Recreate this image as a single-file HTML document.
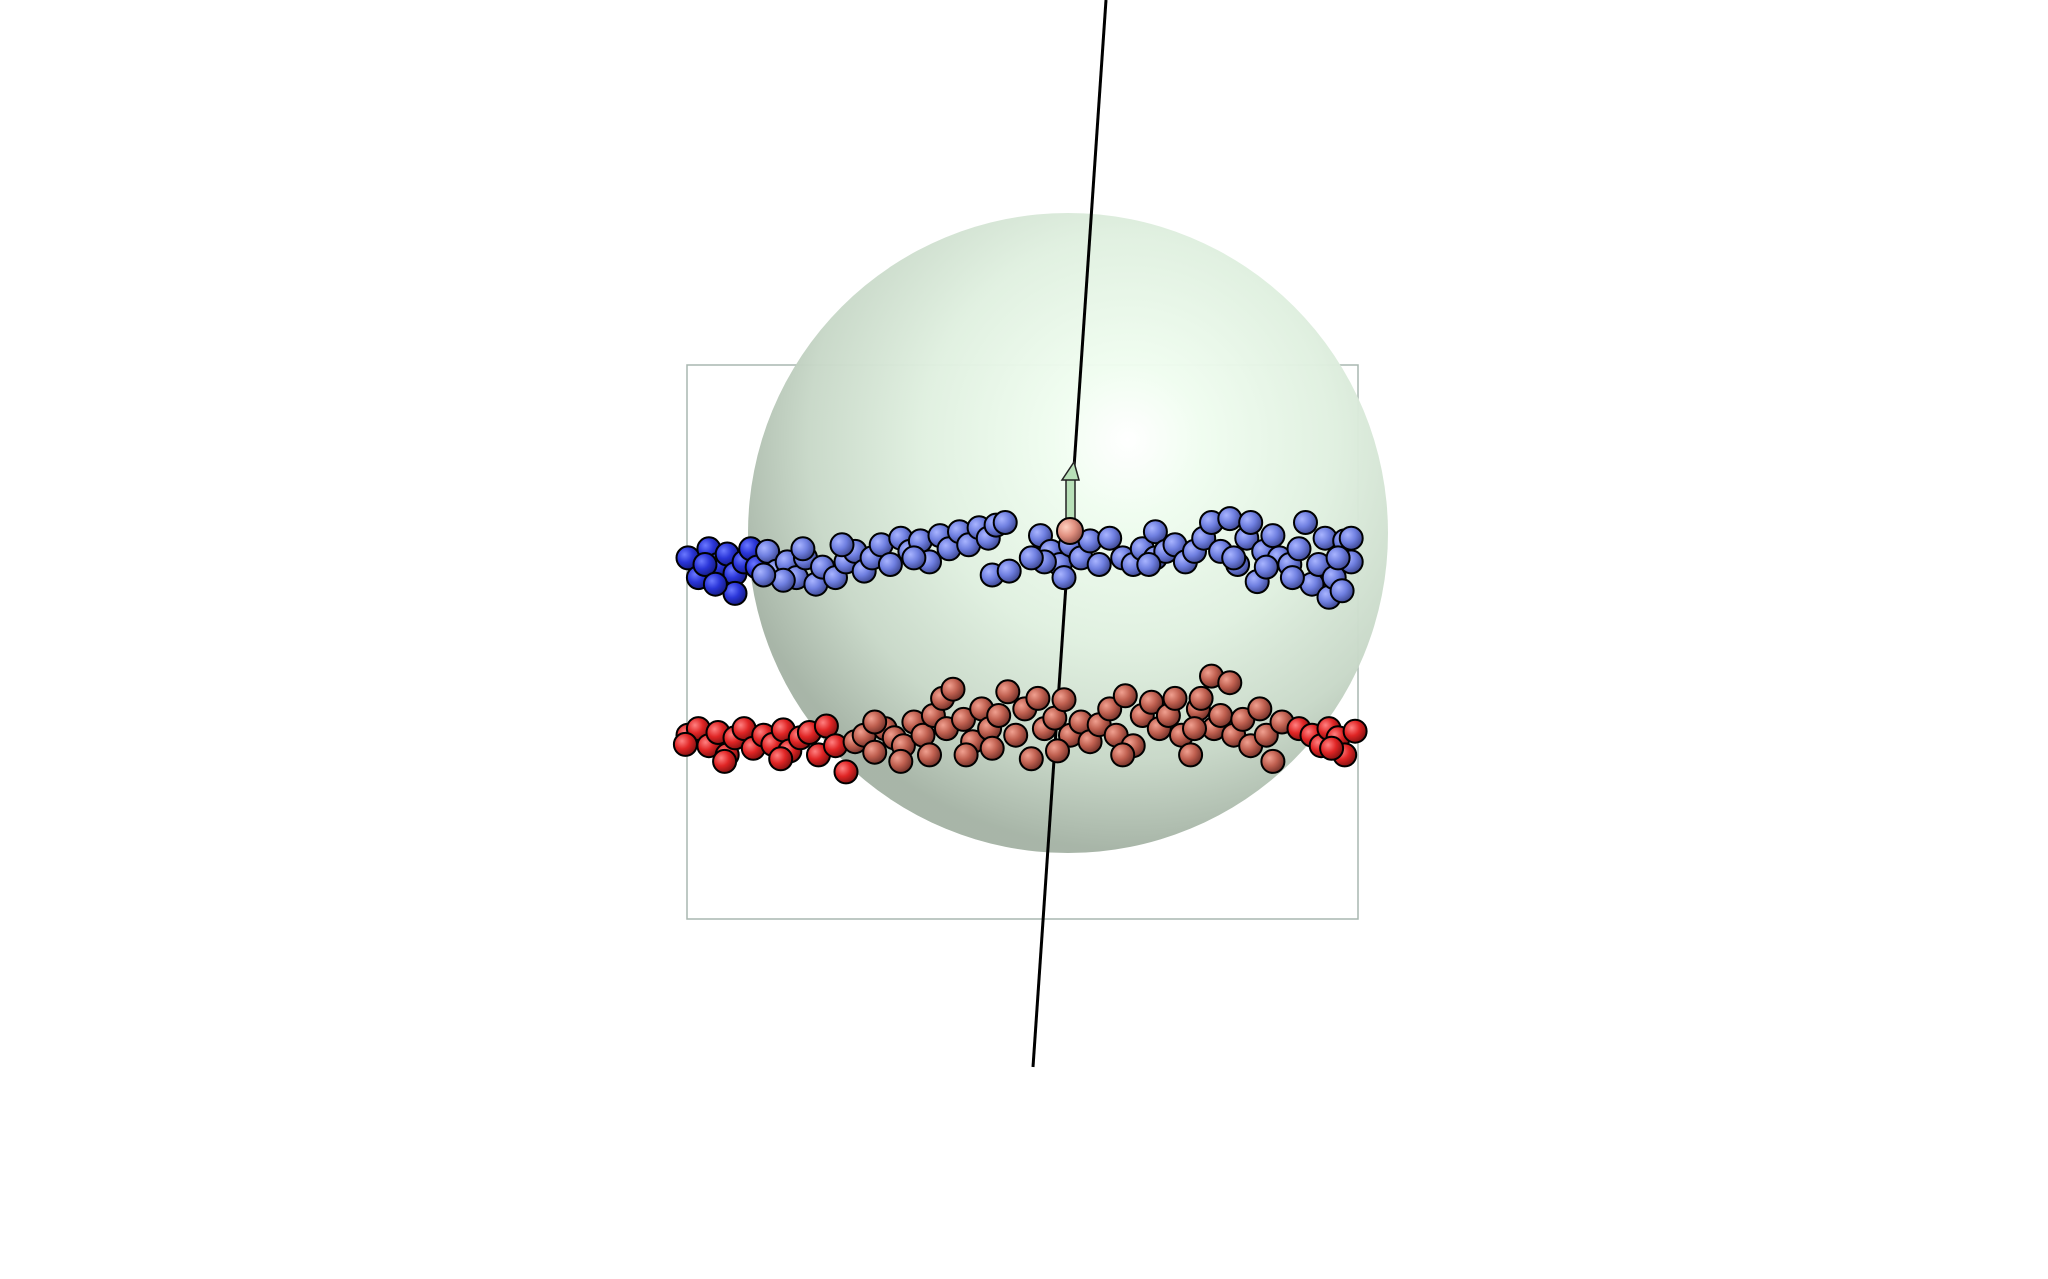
<!DOCTYPE html>
<html><head><meta charset="utf-8"><style>
html,body{margin:0;padding:0;background:#fff;}
svg{display:block;}
</style></head><body>
<svg id="chart" width="2048" height="1279" viewBox="0 0 2048 1279" xmlns="http://www.w3.org/2000/svg">
<defs>
<radialGradient id="sphereGrad" cx="1128" cy="440" r="410" gradientUnits="userSpaceOnUse">
<stop offset="0" stop-color="#ffffff"/>
<stop offset="0.18" stop-color="#f0fdf0"/>
<stop offset="0.5" stop-color="#e0f0e0"/>
<stop offset="0.78" stop-color="#c8d8c8"/>
<stop offset="1" stop-color="#a5b3a5"/>
</radialGradient>
<radialGradient id="gBlueDark" cx="0.35" cy="0.35" r="0.7"><stop offset="0" stop-color="#6a78ff"/><stop offset="0.5" stop-color="#2a35d8"/><stop offset="1" stop-color="#141a80"/></radialGradient>
<radialGradient id="gBlueLight" cx="0.35" cy="0.35" r="0.7"><stop offset="0" stop-color="#a8b4ff"/><stop offset="0.5" stop-color="#6f7fe0"/><stop offset="1" stop-color="#3c4690"/></radialGradient>
<radialGradient id="gRedBright" cx="0.35" cy="0.35" r="0.7"><stop offset="0" stop-color="#ff8080"/><stop offset="0.5" stop-color="#e02525"/><stop offset="1" stop-color="#801010"/></radialGradient>
<radialGradient id="gRedBrown" cx="0.35" cy="0.35" r="0.7"><stop offset="0" stop-color="#f0a090"/><stop offset="0.5" stop-color="#c06050"/><stop offset="1" stop-color="#703028"/></radialGradient>
<radialGradient id="gPink" cx="0.35" cy="0.35" r="0.7"><stop offset="0" stop-color="#ffd0c0"/><stop offset="0.5" stop-color="#e09080"/><stop offset="1" stop-color="#905048"/></radialGradient>
</defs>
<g id="box" fill="none" stroke="#a9b7b0" stroke-width="1.5">
<rect x="687" y="365" width="671" height="554"/>
</g>
<circle cx="1068" cy="533" r="320" fill="url(#sphereGrad)" opacity="0.97"/>
<line x1="1106" y1="0" x2="1033" y2="1067" stroke="#000" stroke-width="3"/>
<g id="arrow">
<rect x="1066" y="478" width="9" height="50" fill="#b8e0b8" stroke="#222" stroke-width="1.5"/>
<polygon points="1062,480 1079,480 1074,462" fill="#b8e0b8" stroke="#222" stroke-width="1.5"/>
</g>
<g id="balls"></g>
<circle cx="1070" cy="531" r="13" fill="url(#gPink)" stroke="#000" stroke-width="2"/>
</svg>
<script>
const blueX=[527,535,543,550,557,563,570,575,563,540,548,580,588,595,603,610,617,625,630,640,648,655,662,668,675,682,690,697,705,712,720,727,735,742,750,757,763,770,760,773,700,645,615,600,585,797,805,812,820,828,835,842,850,800,815,790,860,868,875,885,885,893,900,908,915,922,928,935,942,948,955,958,963,968,975,980,988,995,1000,1005,1010,1015,1018,1022,1028,1030,1035,1035,990,970,945,880,1025];
const blueY=[425,440,418,430,422,437,428,418,452,430,445,432,420,435,428,440,425,445,432,440,428,420,435,425,415,430,410,420,412,428,408,418,405,415,402,410,400,398,438,435,425,415,418,442,438,408,420,430,415,425,412,430,410,428,440,425,425,430,418,405,425,420,415,428,420,410,398,420,395,430,410,398,443,420,408,425,430,418,398,445,430,410,455,440,450,412,428,410,440,432,425,430,425];
const redX=[527,535,543,550,557,563,570,577,585,592,600,605,613,620,627,633,640,648,525,555,598,655,662,670,678,685,692,700,707,712,715,722,730,725,738,745,752,758,765,772,778,785,790,795,800,808,815,820,828,835,842,850,855,862,868,875,882,888,895,900,905,912,918,920,928,942,930,935,945,952,958,965,970,975,982,740,690,670,760,810,860,915,995,1005,1012,1018,1025,1030,1038,1020];
const redY=[560,555,568,558,575,562,555,570,560,567,556,572,562,558,575,553,568,588,567,580,578,565,560,573,555,562,568,550,560,575,545,532,525,555,548,565,540,555,545,527,560,540,578,532,555,547,533,560,550,565,552,540,560,530,568,545,535,555,545,532,560,575,540,532,515,520,555,545,560,548,568,540,560,580,550,575,580,550,570,572,575,555,555,560,568,555,562,575,557,570];
const SX=1.3055, SY=1.3128;
function xs(v){return v*SX;}
function ys(v){return v*SY;}
const g=document.getElementById('balls');
const NS='http://www.w3.org/2000/svg';
function ball(x,y,fill,name){
  const c=document.createElementNS(NS,'circle');
  c.setAttribute('cx',xs(x).toFixed(1));
  c.setAttribute('cy',ys(y).toFixed(1));
  c.setAttribute('r','11.5');
  c.setAttribute('fill',fill);
  c.setAttribute('stroke','#000');
  c.setAttribute('stroke-width','2');
  
  
  g.appendChild(c);
}
for(let i=0;i<blueX.length;i++){
  ball(blueX[i],blueY[i],blueX[i]<585?'url(#gBlueDark)':'url(#gBlueLight)','blue-particle');
}
for(let i=0;i<redX.length;i++){
  const bright=redX[i]<652||redX[i]>990;
  ball(redX[i],redY[i],bright?'url(#gRedBright)':'url(#gRedBrown)','red-particle');
}
</script>
</body></html>
